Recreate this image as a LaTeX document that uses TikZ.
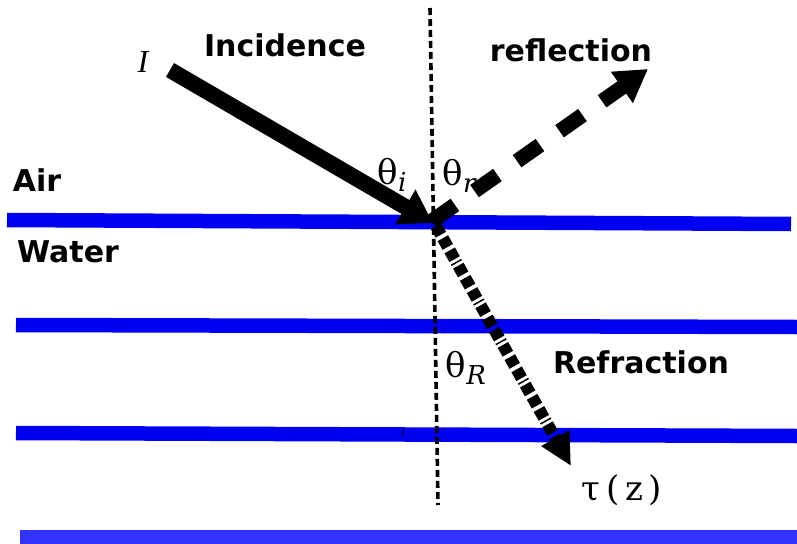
\documentclass[tikz,border=0pt]{standalone}
\usepackage{fontspec}
\setmainfont{DejaVu Serif}
\newfontfamily\lblfont{DejaVu Sans}
\newfontfamily\ifont{Liberation Serif}
\usetikzlibrary{arrows.meta}
\definecolor{waterblue}{RGB}{0,0,245}
\definecolor{deepblue}{RGB}{51,51,255}
\tikzset{
  layer/.style={line width=14.5pt, waterblue},
  lbl/.style={font=\lblfont\bfseries\fontsize{30}{31}\selectfont, inner sep=0pt},
  ang/.style={font=\fontsize{34}{36}\selectfont, inner sep=0pt},
  normalline/.style={line width=3.6pt, dash pattern=on 7pt off 4pt},
  incid/.style={line width=16pt, -{Triangle[length=32pt,width=38pt]}},
  refl/.style={line width=15pt, dash pattern=on 28pt off 24pt, -{Triangle[length=32pt,width=36pt]}},
  refr/.style={line width=12pt, dash pattern=on 10pt off 4pt on 10pt off 4pt on 10pt off 3pt on 1.5pt off 3pt, -{Triangle[length=32pt,width=30pt]}},
}
\begin{document}
\begin{tikzpicture}[x=1pt,y=-1pt]
\useasboundingbox (0,0) rectangle (797,543);
% water layers
\draw[layer] (7,220) -- (791,224);
\draw[layer] (16,325) -- (797,327);
\draw[layer] (16,433) -- (797,436);
\draw[layer, deepblue] (20,537) -- (797,537);
% normal line
\coordinate (ntop) at (430,8);
\coordinate (nbot) at (438,505);
\draw[normalline] (ntop) -- (nbot);
\draw[line width=1.2pt] (403.5,429) -- (402.5,436);
% rays
\coordinate (src) at (170,70);
\coordinate (hit) at (433,223);
\coordinate (rstart) at (432,221);
\coordinate (rtip) at (648,69);
\coordinate (tstart) at (436,226);
\coordinate (ttip) at (571,466);
\draw[incid] (src) -- (hit);
\draw[refl] (rstart) -- (rtip);
\draw[refr] (tstart) -- (ttip);
% labels
\node[inner sep=0pt, font=\ifont\itshape\fontsize{32}{34}\selectfont] (Ilbl) at (143,62) {I};
\node[lbl] (inc) at (285,45) {Incidence};
\node[lbl] (ref) at (571,50) {reflection};
\node[lbl] (air) at (37,180) {Air};
\node[lbl] (wat) at (68,252) {Water};
\node[lbl] (frac) at (641,362) {Refraction};
\node[ang] (thi) at (392,175) {θ\textit{\fontsize{26}{28}\selectfont\raisebox{-7pt}{i}}};
\node[ang] (thr) at (459,176) {θ\textit{\fontsize{26}{28}\selectfont\raisebox{-7pt}{r}}};
\node[ang] (thR) at (466,368) {θ\textit{\fontsize{26}{28}\selectfont\raisebox{-7pt}{R}}};
\node[ang] (tau) at (622,490) {τ\,(\,z\,)};
\end{tikzpicture}
\end{document}
